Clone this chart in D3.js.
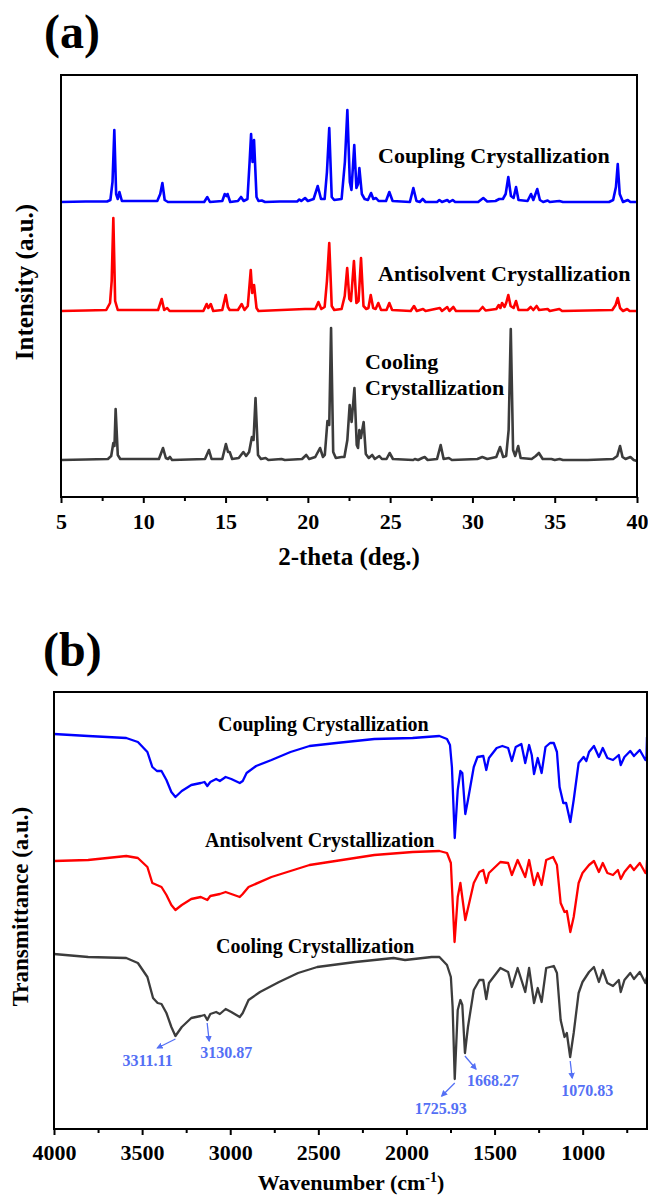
<!DOCTYPE html>
<meta charset="utf-8">
<head>
    <title>XRD and FTIR</title>
    <script src="https://d3js.org/d3.v7.min.js"></script>
</head>
<style>
    body {
        margin: 0;
        background: #ffffff;
    }
    svg text {
        font-family: "Liberation Serif", "Times New Roman", serif;
        font-weight: bold;
        fill: #000;
    }
    .frame {
        fill: none;
        stroke: #000;
        stroke-width: 2px;
    }
    .axis path {
        display: none;
    }
    .axis line {
        stroke: #000;
        stroke-width: 2px;
    }
    .curve {
        fill: none;
        stroke-linejoin: round;
    }
    .note text {
        font-size: 16px;
        fill: #5470f5;
    }
</style>
<body>
<svg width="648" height="1195"></svg>
<script>
    // ---- (a) XRD patterns: [2-theta, intensity above each pattern's own baseline] ----
    var xrdCoupling = [
        [5,0],[6.5,0.5],[7.8,0.5],[8.0,2],[8.13,20],[8.24,72],[8.35,8],[8.45,3],[8.55,10],[8.7,1],
        [10.85,1],[11.03,8],[11.16,19],[11.3,2],[11.5,0],
        [13.7,0],[13.89,5],[14.05,0],
        [14.8,1],[14.95,8],[15.05,6],[15.12,8],[15.28,0],
        [15.75,1],[15.94,5],[16.1,1],[16.33,3],[16.46,40],[16.55,68],[16.64,40],[16.73,62],[16.88,5],[17.0,1],[17.2,1.5],[17.4,0],
        [18.3,0.5],[19.35,0.5],[19.48,2.5],[19.6,1],[19.83,4],[20.0,1],[20.35,3],[20.6,16],[20.8,3],[21.02,3],[21.16,30],[21.3,74],[21.45,5],[21.6,2],
        [22.05,3],[22.25,40],[22.4,92],[22.55,20],[22.65,12],[22.82,57],[22.95,14],[23.05,18],[23.13,34],[23.28,8],[23.45,3],
        [23.65,2],[23.84,9],[23.98,3],[24.14,4],[24.3,1],[24.75,1],[24.95,10],[25.15,1],
        [26.2,0],[26.41,14],[26.6,1],[26.8,0],[26.98,3],[27.15,0],
        [27.85,0],[27.99,2],[28.15,0],[28.47,2],[28.6,0],[28.8,2],[28.95,0],
        [30.35,0],[30.66,4],[30.9,0.5],[31.4,1],[31.63,3],[31.85,3],[32.02,8],[32.18,25],[32.34,6],[32.5,4],[32.65,15],[32.8,2],
        [33.35,1],[33.56,8],[33.7,2],[33.94,13],[34.1,2],[34.3,0],[34.57,1.5],[34.7,0],[35.28,1],[35.5,0],
        [38.3,0],[38.55,2],[38.72,15],[38.83,38],[38.95,8],[39.15,0],[39.44,2],[39.6,0],[40,0]
    ];
    var xrdAntisolvent = [
        [5,0],[6.5,0.5],[7.75,1],[7.98,8],[8.08,30],[8.18,93],[8.29,10],[8.45,1],
        [10.9,1],[11.12,12],[11.27,1],[11.45,3],[11.6,0],
        [13.65,0],[13.85,7],[13.95,3],[14.1,7],[14.25,0],
        [14.8,1],[15.01,16],[15.14,4],[15.25,1],
        [15.75,1],[15.98,7],[16.15,1],[16.35,5],[16.53,41],[16.62,18],[16.73,26],[16.88,3],[17.0,0],
        [18.4,1],[19.83,2],[20.45,2],[20.64,9],[20.82,2],[21.02,4],[21.16,30],[21.3,68],[21.45,5],[21.6,1],
        [22.05,2],[22.24,15],[22.39,43],[22.52,12],[22.62,10],[22.8,50],[22.95,8],[23.08,10],[23.23,53],[23.38,5],[23.55,2],
        [23.68,3],[23.82,16],[23.97,3],[24.12,2],[24.28,8],[24.45,1],[24.78,1],[24.95,8],[25.12,1],
        [26.25,0],[26.45,5],[26.62,0],[27.0,2],[27.15,0],[28.02,3],[28.15,0],[28.47,4],[28.6,0],[28.84,4],[29.0,0],
        [30.4,0],[30.62,4],[30.8,0.5],[31.45,2],[31.6,6],[31.7,3],[31.8,8],[31.95,4],[32.05,8],[32.18,16],[32.32,5],[32.5,3],[32.65,10],[32.8,1],
        [33.35,1],[33.54,4],[33.7,1],[33.9,5],[34.05,1],[34.57,2],[34.7,0],[35.28,2],[35.45,0],
        [38.5,1],[38.7,6],[38.83,13],[38.97,3],[39.15,0],[39.4,2],[39.55,0],[40,0]
    ];
    var xrdCooling = [
        [5,0],[6.5,0.5],[7.85,1],[8.05,4],[8.18,17],[8.25,14],[8.32,51],[8.45,5],[8.6,1],
        [10.95,1],[11.2,12],[11.37,2],[11.5,1],[11.62,3],[11.75,0],
        [13.75,1],[13.99,10],[14.15,1],
        [14.8,1],[15.02,16],[15.15,8],[15.25,8],[15.4,1],
        [15.8,2],[16.08,8],[16.25,4],[16.43,8],[16.6,23],[16.7,20],[16.82,62],[16.97,5],[17.15,1],[17.43,2],[17.6,0],
        [18.4,1],[18.6,0],[19.65,1],[19.9,5],[20.08,1],[20.45,3],[20.74,12],[20.92,3],[21.03,5],[21.19,39],[21.3,35],[21.41,132],[21.54,8],[21.7,2],
        [22.05,3],[22.22,3],[22.4,20],[22.54,55],[22.66,38],[22.83,72],[22.97,15],[23.05,12],[23.13,30],[23.22,22],[23.39,38],[23.52,6],[23.7,2],
        [23.91,5],[24.07,1],[24.34,4],[24.5,1],[24.78,1],[24.97,7],[25.17,1],
        [26.4,0],[26.5,1],[26.7,0],[26.95,2],[27.1,3],[27.28,0],
        [27.85,1],[28.07,15],[28.25,1],[28.57,2],[28.75,0],
        [30.3,1],[30.6,3],[30.9,1],[31.45,3],[31.68,13],[31.87,3],[32.05,4],[32.2,30],[32.33,131],[32.47,10],[32.6,4],[32.78,14],[32.93,2],
        [33.6,1],[33.85,4],[34.04,7],[34.27,1],[34.8,1],[35.0,0],[35.3,1],[35.5,0],
        [36.0,0],[37.0,0],[38.55,1],[38.8,4],[38.97,14],[39.12,3],[39.3,1],[39.6,3],[39.8,0],[40,-1]
    ];
    var xrdNames = ["Coupling Crystallization", "Antisolvent Crystallization", "Cooling Crystallization"];
    var xrdTicks = [5, 10, 15, 20, 25, 30, 35, 40];
    var xrdMinorTicks = [7.5, 12.5, 17.5, 22.5, 27.5, 32.5, 37.5];

    // ---- (b) FTIR spectra: [wavenumber, transmittance a.u.] ----
    var ftirCoupling = [
        [4000,395],[3806,393],[3590,391],[3524,387],[3470,377],[3442,362],[3416,358],[3390,358],[3362,349],[3334,337],[3311,332],
        [3275,338],[3221,344],[3167,346],[3146,347],[3130,343],[3113,347],[3080,350],[3059,348],[3026,352],[2994,350],[2946,346],
        [2929,348],[2907,356],[2853,363],[2766,369],[2658,377],[2550,383],[2398,386],[2182,390],[1965,391],[1813,393],[1770,390],
        [1753,384],[1742,362],[1726,291],[1709,339],[1694,358],[1683,356],[1666,315],[1651,329],[1618,362],[1597,372],[1564,373],
        [1547,359],[1532,371],[1488,381],[1456,383],[1423,381],[1402,368],[1380,382],[1348,385],[1326,366],[1304,384],[1289,374],
        [1276,355],[1255,371],[1233,356],[1211,382],[1185,386],[1164,386],[1146,377],[1131,342],[1110,326],[1094,326],[1070,307],
        [1051,329],[1023,366],[995,372],[979,368],[964,377],[936,383],[908,372],[886,381],[860,371],[828,369],[795,374],[784,364],
        [763,372],[730,378],[709,373],[676,379],[644,369],[638,372],[635,392]
    ];
    var ftirAntisolvent = [
        [4000,268],[3806,269],[3590,273],[3524,271],[3470,262],[3442,246],[3416,244],[3390,242],[3362,234],[3334,224],[3311,219],
        [3275,224],[3221,230],[3167,232],[3130,229],[3113,233],[3059,235],[3026,237],[2946,232],[2929,235],[2896,242],[2766,252],
        [2550,264],[2182,274],[1965,277],[1813,278],[1770,276],[1748,266],[1727,187],[1709,232],[1694,246],[1666,209],[1618,246],
        [1586,257],[1564,259],[1547,246],[1532,256],[1467,267],[1423,266],[1402,254],[1369,269],[1326,252],[1304,269],[1276,244],
        [1255,256],[1233,244],[1207,269],[1168,272],[1146,264],[1125,226],[1103,217],[1090,218],[1070,197],[1051,212],[1023,246],
        [1001,256],[964,264],[936,268],[908,257],[886,266],[860,256],[828,254],[800,259],[784,250],[763,257],[730,264],[709,259],
        [676,266],[644,256],[638,258],[635,269]
    ];
    var ftirCooling = [
        [4000,175],[3806,172],[3590,171],[3524,166],[3470,152],[3438,131],[3412,126],[3390,125],[3362,116],[3334,102],[3311,93],
        [3275,102],[3221,111],[3167,113],[3146,114],[3130,109],[3113,115],[3080,117],[3059,115],[3026,120],[2994,117],[2946,112],
        [2929,116],[2896,129],[2831,137],[2723,147],[2615,156],[2506,162],[2290,167],[2073,171],[2008,169],[1857,172],[1813,172],
        [1770,164],[1748,152],[1738,122],[1726,50],[1709,119],[1694,129],[1683,124],[1668,76],[1651,102],[1618,139],[1586,149],
        [1564,149],[1547,130],[1532,146],[1467,161],[1423,157],[1402,142],[1369,161],[1326,137],[1304,161],[1276,126],[1255,141],
        [1233,127],[1207,161],[1164,163],[1146,156],[1125,109],[1103,92],[1090,96],[1071,72],[1051,96],[1023,136],[1001,147],
        [964,157],[936,162],[908,147],[886,159],[860,146],[828,143],[795,149],[784,137],[763,149],[730,156],[709,150],[676,157],
        [644,146],[635,152]
    ];
    var ftirNames = ["Coupling Crystallization", "Antisolvent Crystallization", "Cooling Crystallization"];
    var ftirPeaks = ["3311.11", "3130.87", "1725.93", "1668.27", "1070.83"];
    var ftirTicks = [4000, 3500, 3000, 2500, 2000, 1500, 1000];
    var ftirMinorTicks = [3750, 3250, 2750, 2250, 1750, 1250, 750];

    var colors = ["#0000ff", "#ff0000", "#3c3c3c"];
    var serif = "'Liberation Serif', 'Times New Roman', serif";

    var svg = d3.select("svg");

    function styleTicks(g) {
        g.selectAll("text")
            .style("font-family", serif)
            .style("font-weight", "bold")
            .style("font-size", "22px")
            .attr("fill", "#000");
    }

    // ================= panel (a) =================
    var A = {left: 61, right: 637, top: 75, bottom: 497};
    var xA = d3.scaleLinear().domain([5, 40]).range([A.left, A.right]);
    var yA = d3.scaleLinear().domain([0, 422]).range([A.bottom, A.top]);
    var xrdOffsets = [295, 186, 37];

    svg.append("text").attr("x", 44).attr("y", 48).style("font-size", "48px").text("(a)");

    var gA = svg.append("g");
    [xrdCoupling, xrdAntisolvent, xrdCooling].forEach(function(data, i) {
        var line = d3.line()
            .x(function(d) { return xA(d[0]); })
            .y(function(d) { return yA(d[1] + xrdOffsets[i]); });
        gA.append("path").attr("class", "curve")
            .attr("stroke", colors[i]).attr("stroke-width", 2.6)
            .attr("d", line(data));
    });

    svg.append("g").attr("class", "axis")
        .attr("transform", "translate(0," + A.bottom + ")")
        .call(d3.axisBottom(xA).tickValues(xrdTicks).tickSize(6).tickPadding(10).tickFormat(d3.format("d")))
        .call(styleTicks);
    svg.append("g").attr("class", "axis")
        .attr("transform", "translate(0," + A.bottom + ")")
        .call(d3.axisBottom(xA).tickValues(xrdMinorTicks).tickSize(4).tickFormat(""));

    svg.append("rect").attr("class", "frame")
        .attr("x", A.left).attr("y", A.top)
        .attr("width", A.right - A.left).attr("height", A.bottom - A.top);

    svg.append("text").attr("x", 378).attr("y", 163).style("font-size", "22px").text(xrdNames[0]);
    svg.append("text").attr("x", 378).attr("y", 281).style("font-size", "22px").text(xrdNames[1]);
    var coolA = svg.append("text").attr("x", 365).attr("y", 369).style("font-size", "22px");
    coolA.append("tspan").attr("x", 365).text(xrdNames[2].split(" ")[0]);
    coolA.append("tspan").attr("x", 365).attr("dy", 26).text(xrdNames[2].split(" ")[1]);

    svg.append("text").attr("x", 349).attr("y", 565)
        .attr("text-anchor", "middle").style("font-size", "25px").text("2-theta (deg.)");
    svg.append("text").attr("transform", "translate(33," + ((A.top + A.bottom) / 2 - 4) + ") rotate(-90)")
        .attr("text-anchor", "middle").style("font-size", "25px").text("Intensity (a.u.)");

    // ================= panel (b) =================
    var B = {left: 54, right: 647, top: 692, bottom: 1129};
    var xB = d3.scaleLinear().domain([4000, 635]).range([B.left, B.right]);
    var yB = d3.scaleLinear().domain([0, 437]).range([B.bottom, B.top]);

    svg.append("text").attr("x", 43).attr("y", 666).style("font-size", "48px").text("(b)");

    var gB = svg.append("g");
    [ftirCoupling, ftirAntisolvent, ftirCooling].forEach(function(data, i) {
        var line = d3.line()
            .x(function(d) { return xB(d[0]); })
            .y(function(d) { return yB(d[1]); });
        gB.append("path").attr("class", "curve")
            .attr("stroke", colors[i]).attr("stroke-width", 2.3)
            .attr("d", line(data));
    });

    svg.append("g").attr("class", "axis")
        .attr("transform", "translate(0," + B.bottom + ")")
        .call(d3.axisBottom(xB).tickValues(ftirTicks).tickSize(6).tickPadding(9).tickFormat(d3.format("d")))
        .call(styleTicks);
    svg.append("g").attr("class", "axis")
        .attr("transform", "translate(0," + B.bottom + ")")
        .call(d3.axisBottom(xB).tickValues(ftirMinorTicks).tickSize(4).tickFormat(""));

    svg.append("rect").attr("class", "frame")
        .attr("x", B.left).attr("y", B.top)
        .attr("width", B.right - B.left).attr("height", B.bottom - B.top);

    svg.append("text").attr("x", 218).attr("y", 731).style("font-size", "20px").text(ftirNames[0]);
    svg.append("text").attr("x", 205).attr("y", 847).style("font-size", "20px").text(ftirNames[1]);
    svg.append("text").attr("x", 216).attr("y", 953).style("font-size", "20px").text(ftirNames[2]);

    // peak annotations on the cooling spectrum
    // arrow start offset from the peak, arrow end, text position (pixels)
    var noteLayout = [
        {sx: 0, sy: 3, ex: -18, ey: 12, tx: -53, ty: 30},
        {sx: 0, sy: 3, ex: 2, ey: 21, tx: -7, ty: 38},
        {sx: 0, sy: 4, ex: -13, ey: 17, tx: -40, ty: 35},
        {sx: 0, sy: 3, ex: 11, ey: 16, tx: 2, ty: 33},
        {sx: 0, sy: 4, ex: 2, ey: 21, tx: -9, ty: 39}
    ];
    var defs = svg.append("defs");
    defs.append("marker").attr("id", "arr")
        .attr("viewBox", "0 0 10 10").attr("refX", 8).attr("refY", 5)
        .attr("markerWidth", 5).attr("markerHeight", 5).attr("orient", "auto")
        .append("path").attr("d", "M0,0 L10,5 L0,10 Z").attr("fill", "#5470f5");

    var gN = svg.append("g").attr("class", "note");
    ftirPeaks.forEach(function(lab, i) {
        var wn = +lab;
        var pt = ftirCooling.reduce(function(a, b) {
            return Math.abs(b[0] - wn) < Math.abs(a[0] - wn) ? b : a;
        });
        var px = xB(wn), py = yB(pt[1]);
        var L = noteLayout[i];
        gN.append("line")
            .attr("x1", px + L.sx).attr("y1", py + L.sy)
            .attr("x2", px + L.ex).attr("y2", py + L.ey)
            .attr("stroke", "#5470f5").attr("stroke-width", 1.3)
            .attr("marker-end", "url(#arr)");
        gN.append("text").attr("x", px + L.tx).attr("y", py + L.ty).text(lab);
    });

    var title = svg.append("text").attr("x", 351).attr("y", 1190)
        .attr("text-anchor", "middle").style("font-size", "22px");
    title.append("tspan").text("Wavenumber (cm");
    title.append("tspan").attr("dy", -8).style("font-size", "14px").text("-1");
    title.append("tspan").attr("dy", 8).text(")");
    svg.append("text").attr("transform", "translate(28," + ((B.top + B.bottom) / 2 - 4) + ") rotate(-90)")
        .attr("text-anchor", "middle").style("font-size", "23px").text("Transmittance (a.u.)");
</script>
</body>
